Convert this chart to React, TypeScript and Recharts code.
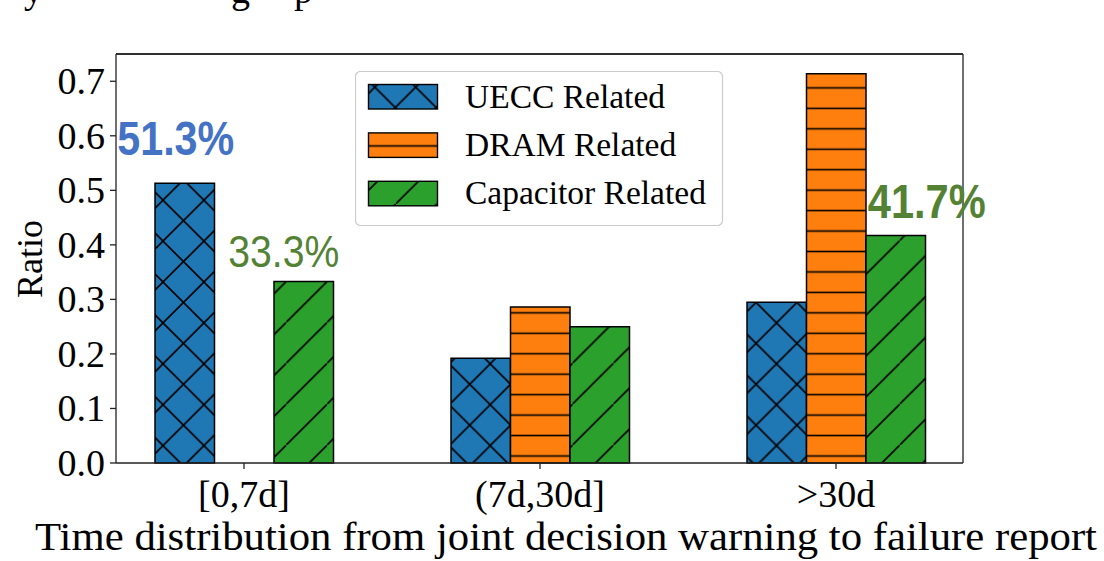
import React from 'react';
import { BarChart, Bar, XAxis, YAxis, Legend, LabelList, ReferenceLine } from 'recharts';

const categories = ['[0,7d]', '(7d,30d]', '>30d'];
const ueccRatio = [0.513, 0.192, 0.295];
const dramRatio = [0, 0.286, 0.714];
const capacitorRatio = [0.333, 0.25, 0.417];
const yTicks = [0, 0.1, 0.2, 0.3, 0.4, 0.5, 0.6, 0.7];

const data = categories.map((cat, i) => ({
  cat,
  uecc: ueccRatio[i],
  dram: dramRatio[i],
  cap: capacitorRatio[i],
}));

const SERIES = [
  { key: 'uecc', name: 'UECC Related', pattern: 'hatch-x' },
  { key: 'dram', name: 'DRAM Related', pattern: 'hatch-h' },
  { key: 'cap', name: 'Capacitor Related', pattern: 'hatch-slash' },
];

const SERIF = '"Liberation Serif", "Times New Roman", serif';
const SANS = '"Liberation Sans", Arial, sans-serif';
const P = 40.9; // diagonal hatch period
const H = P / 2; // horizontal hatch period
const SPINE = { stroke: '#222', strokeWidth: 1.3 };

// percentage callouts drawn over a few bars
const CALLOUTS: Record<string, Record<number, any>> = {
  uecc: { 0: { color: '#4472C4', weight: 700, dx: -9, dy: -28, size: 48, len: 117 } },
  dram: { 2: { color: '#ED7D31', weight: 700, dx: 0, dy: -23, size: 49, len: 116 } },
  cap: {
    0: { color: '#548235', weight: 400, dx: -20, dy: -14, size: 45, len: 111 },
    2: { color: '#548235', weight: 700, dx: 31, dy: -18, size: 49, len: 118 },
  },
};

function callout(key: string) {
  return (props: any) => {
    const c = CALLOUTS[key]?.[props.index];
    if (!c) return null;
    const vb = props.viewBox || {};
    const x = props.x ?? vb.x;
    const y = props.y ?? vb.y;
    const w = props.width ?? vb.width;
    const v = Number(props.value);
    return (
      <text
        x={x + w / 2 + c.dx}
        y={y + c.dy}
        textAnchor="middle"
        fill={c.color}
        fontFamily={SANS}
        fontWeight={c.weight}
        fontSize={c.size}
        textLength={c.len}
        lengthAdjust="spacingAndGlyphs"
      >
        {(v * 100).toFixed(1) + '%'}
      </text>
    );
  };
}

function YTick({ x, y, payload }: any) {
  return (
    <text x={x - 3} y={y + 13} textAnchor="end" fontFamily={SERIF} fontSize={38} fill="#000">
      {Number(payload.value).toFixed(1)}
    </text>
  );
}

function XTick({ x, y, payload }: any) {
  return (
    <text x={x} y={y + 36} textAnchor="middle" fontFamily={SERIF} fontSize={38} fill="#000">
      {payload.value}
    </text>
  );
}

function HatchDefs() {
  return (
    <defs>
      <pattern id="hatch-x" patternUnits="userSpaceOnUse" x={-0.6} y={36.6} width={P} height={P}>
        <rect width={P} height={P} fill="#1f77b4" />
        <path d={`M-2,-2 L${P + 2},${P + 2} M-2,${P + 2} L${P + 2},-2`} stroke="#000" strokeWidth={1.6} />
      </pattern>
      <pattern id="hatch-h" patternUnits="userSpaceOnUse" x={0} y={6.1 - H / 2} width={20} height={H}>
        <rect width={20} height={H} fill="#ff7f0e" />
        <path d={`M0,${H / 2} L20,${H / 2}`} stroke="#000" strokeWidth={1.6} />
      </pattern>
      <pattern id="hatch-slash" patternUnits="userSpaceOnUse" x={0} y={36} width={P} height={P}>
        <rect width={P} height={P} fill="#2ca02c" />
        <path d={`M-2,${P + 2} L${P + 2},-2`} stroke="#000" strokeWidth={1.6} />
      </pattern>
    </defs>
  );
}

function LegendBox() {
  return (
    <svg width={370} height={157} style={{ display: 'block' }}>
      <rect x={0.5} y={0.5} width={367} height={154} rx={5} fill="#fff" fillOpacity={0.8} stroke="#cccccc" strokeWidth={1.2} />
      {SERIES.map((s, i) => (
        <g key={s.key} transform={`translate(0, ${i * 48.4})`}>
          <rect x={13.5} y={13.5} width={69} height={24.5} fill={`url(#${s.pattern})`} stroke="#000" strokeWidth={1.4} />
          <text x={110} y={36.5} fontFamily={SERIF} fontSize={33.5} fill="#000">
            {s.name}
          </text>
        </g>
      ))}
    </svg>
  );
}

export default function App() {
  return (
    <div style={{ position: 'absolute', left: 0, top: 0, width: 1104, height: 561, background: '#fff' }}>
      <BarChart
        width={1104}
        height={561}
        data={data}
        margin={{ top: 53, right: 140, bottom: 58, left: 56 }}
        barGap={0}
        barSize={59.5}
      >
        <HatchDefs />
        <XAxis
          dataKey="cat"
          height={40}
          padding={{ left: -20, right: -21 }}
          tick={<XTick />}
          tickSize={6}
          tickMargin={2}
          axisLine={SPINE}
          tickLine={SPINE}
        />
        <XAxis
          xAxisId="top"
          dataKey="cat"
          orientation="top"
          height={1}
          tick={false}
          tickLine={false}
          axisLine={SPINE}
        />
        <YAxis
          width={60}
          domain={[0, 0.75]}
          ticks={yTicks}
          tick={<YTick />}
          tickSize={6}
          tickMargin={2}
          axisLine={SPINE}
          tickLine={SPINE}
        />
        <YAxis
          yAxisId="right"
          orientation="right"
          width={1}
          domain={[0, 0.75]}
          tick={false}
          tickLine={false}
          axisLine={SPINE}
        />
        <ReferenceLine y={0.75} stroke="#222" strokeWidth={1.3} />
        <Legend
          layout="horizontal"
          verticalAlign="middle"
          align="center"
          wrapperStyle={{ position: 'absolute', left: 355, top: 71, width: 370, height: 157 }}
          content={() => <LegendBox />}
        />
        {SERIES.map((s) => (
          <Bar
            key={s.key}
            dataKey={s.key}
            name={s.name}
            fill={`url(#${s.pattern})`}
            stroke="#000"
            strokeWidth={1.5}
            isAnimationActive={false}
          >
            <LabelList dataKey={s.key} content={callout(s.key)} />
          </Bar>
        ))}
        <text
          x={41.5}
          y={259}
          transform="rotate(-90, 41.5, 259)"
          textAnchor="middle"
          fontFamily={SERIF}
          fontSize={36}
          fill="#000"
        >
          Ratio
        </text>
        <text x={35} y={550} fontFamily={SERIF} fontSize={40} fill="#000" textLength={1062} lengthAdjust="spacingAndGlyphs">
          Time distribution from joint decision warning to failure report
        </text>
        <text x={24} y={3} fontFamily={SERIF} fontSize={38} fill="#000">y</text>
        <text x={231} y={3} fontFamily={SERIF} fontSize={38} fill="#000">g</text>
        <text x={294} y={3} fontFamily={SERIF} fontSize={38} fill="#000">p</text>
      </BarChart>
    </div>
  );
}
